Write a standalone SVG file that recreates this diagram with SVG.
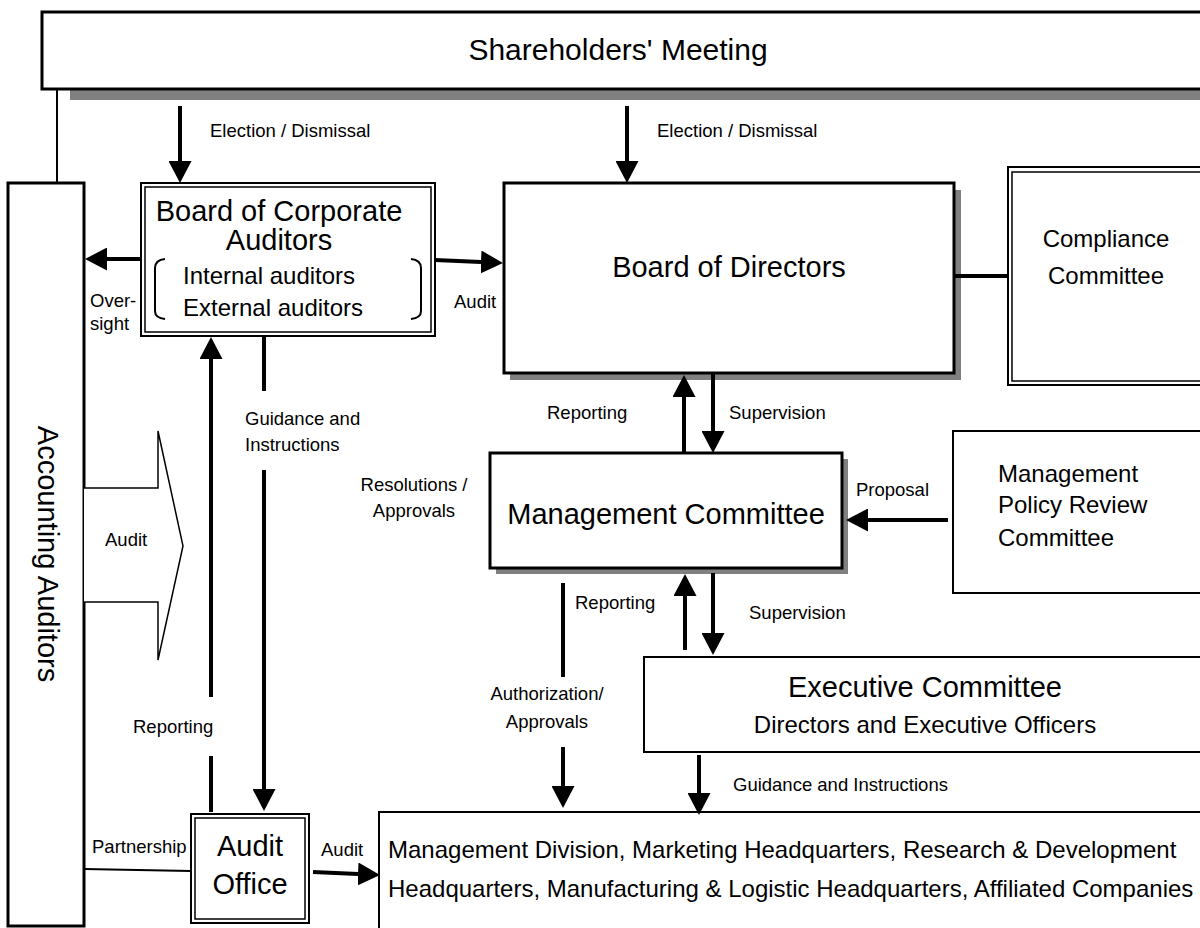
<svg xmlns="http://www.w3.org/2000/svg" width="1200" height="928" viewBox="0 0 1200 928">
<defs>
<style>
text{font-family:"Liberation Sans",Arial,sans-serif;fill:#000}
.big{font-size:29px}
.mid{font-size:24px}
.sub{font-size:24px}
.md{font-size:24px}
.lbl{font-size:18.5px}
.box{fill:#fff;stroke:#000}
.shadow{fill:#808080;stroke:none}
.ar{stroke:#000;stroke-width:4;fill:none}
.thin{stroke:#000;stroke-width:2;fill:none}
</style>
<marker id="ah" markerUnits="userSpaceOnUse" markerWidth="22" markerHeight="23" refX="0" refY="11.5" orient="auto">
<path d="M0,0 L22,11.5 L0,23 Z" fill="#000"/>
</marker>
</defs>
<rect width="1200" height="928" fill="#fff"/>

<g id="shareholders">
<rect class="shadow" x="70" y="22" width="1160" height="78"/>
<rect class="box" x="42" y="12" width="1180" height="77" stroke-width="3"/>
<text class="big" x="618" y="60" text-anchor="middle" style="font-size:30px">Shareholders' Meeting</text>
</g>

<g id="accounting-auditors">
<rect class="box" x="8" y="183" width="76" height="743" stroke-width="3"/>
<text class="big" transform="translate(38,554) rotate(90)" text-anchor="middle">Accounting Auditors</text>
</g>

<g id="board-corporate-auditors">
<rect class="box" x="141" y="183" width="294" height="153" stroke-width="2"/>
<rect class="box" x="145" y="187" width="286" height="145" stroke-width="1.5"/>
<text class="big" x="279" y="221" text-anchor="middle">Board of Corporate</text>
<text class="big" x="279" y="250" text-anchor="middle">Auditors</text>
<path class="thin" stroke-width="1.5" d="M165,259 Q155,260 155,268 L155,311 Q155,318 165,319"/>
<path class="thin" stroke-width="1.5" d="M411,259 Q421,260 421,268 L421,311 Q421,318 411,319"/>
<text class="sub" x="183" y="284">Internal auditors</text>
<text class="sub" x="183" y="316">External auditors</text>
</g>

<g id="board-of-directors">
<rect class="shadow" x="510" y="190" width="451" height="190"/>
<rect class="box" x="504" y="183" width="450" height="190" stroke-width="3"/>
<text class="big" x="729" y="277" text-anchor="middle">Board of Directors</text>
</g>

<g id="compliance-committee">
<rect class="box" x="1008" y="167" width="220" height="218" stroke-width="2"/>
<rect class="box" x="1012" y="172" width="220" height="209" stroke-width="1.5"/>
<text class="mid" x="1106" y="247" text-anchor="middle">Compliance</text>
<text class="mid" x="1106" y="284" text-anchor="middle">Committee</text>
</g>

<g id="management-committee">
<rect class="shadow" x="496" y="459" width="352" height="115"/>
<rect class="box" x="490" y="453" width="352" height="115" stroke-width="3"/>
<text class="big" x="666" y="524" text-anchor="middle">Management Committee</text>
</g>

<g id="management-policy-review">
<rect class="box" x="953" y="431" width="270" height="162" stroke-width="2"/>
<text class="md" x="998" y="482">Management</text>
<text class="md" x="998" y="513">Policy Review</text>
<text class="md" x="998" y="546">Committee</text>
</g>

<g id="executive-committee">
<rect class="box" x="644" y="657" width="580" height="95" stroke-width="2"/>
<text class="big" x="925" y="697" text-anchor="middle">Executive Committee</text>
<text class="sub" x="925" y="733" text-anchor="middle">Directors and Executive Officers</text>
</g>

<g id="audit-office">
<rect class="box" x="191" y="814" width="118" height="109" stroke-width="2"/>
<rect class="box" x="195" y="818" width="110" height="101" stroke-width="1.5"/>
<text class="big" x="250" y="856" text-anchor="middle">Audit</text>
<text class="big" x="250" y="894" text-anchor="middle">Office</text>
</g>

<g id="divisions">
<rect class="box" x="379" y="812" width="850" height="130" stroke-width="2"/>
<text class="md" x="388" y="858">Management Division, Marketing Headquarters, Research &amp; Development</text>
<text class="md" x="388" y="897">Headquarters, Manufacturing &amp; Logistic Headquarters, Affiliated Companies</text>
</g>

<g id="connectors">
<line class="thin" x1="57" y1="89" x2="57" y2="183"/>
<line class="ar" x1="180" y1="106" x2="180" y2="161" marker-end="url(#ah)"/>
<line class="ar" x1="627" y1="106" x2="627" y2="161" marker-end="url(#ah)"/>
<line class="ar" x1="141" y1="259" x2="107" y2="259" marker-end="url(#ah)"/>
<line class="ar" stroke-width="3" x1="435" y1="260" x2="481" y2="262" marker-end="url(#ah)"/>
<line class="ar" x1="211" y1="812" x2="211" y2="756"/>
<line class="ar" x1="211" y1="697" x2="211" y2="359" marker-end="url(#ah)"/>
<line class="ar" stroke-width="5" x1="264" y1="336" x2="264" y2="391"/>
<line class="ar" stroke-width="5" x1="264" y1="470" x2="264" y2="789" marker-end="url(#ah)"/>
<line class="ar" x1="684" y1="453" x2="684" y2="397" marker-end="url(#ah)"/>
<line class="ar" x1="713" y1="373" x2="713" y2="431" marker-end="url(#ah)"/>
<line class="ar" stroke-width="3" x1="954" y1="276" x2="1008" y2="276"/>
<line class="ar" x1="948" y1="520" x2="868" y2="520" marker-end="url(#ah)"/>
<line class="ar" x1="685" y1="650" x2="685" y2="596" marker-end="url(#ah)"/>
<line class="ar" x1="713" y1="573" x2="713" y2="633" marker-end="url(#ah)"/>
<line class="ar" x1="563" y1="583" x2="563" y2="677"/>
<line class="ar" x1="563" y1="747" x2="563" y2="786" marker-end="url(#ah)"/>
<line class="ar" x1="699" y1="755" x2="699" y2="793" marker-end="url(#ah)"/>
<line class="thin" x1="84" y1="869" x2="191" y2="871"/>
<line class="ar" stroke-width="3" x1="313" y1="872" x2="358" y2="874" marker-end="url(#ah)"/>
<polyline fill="#fff" stroke="#000" stroke-width="1.5" points="84,488 158,488 158,431 183,546 158,660 158,602 84,602"/>
</g>

<g id="labels">
<text class="lbl" x="210" y="137">Election / Dismissal</text>
<text class="lbl" x="657" y="137">Election / Dismissal</text>
<text class="lbl" x="90" y="307">Over-</text>
<text class="lbl" x="90" y="330">sight</text>
<text class="lbl" x="454" y="308">Audit</text>
<text class="lbl" x="245" y="425">Guidance and</text>
<text class="lbl" x="245" y="451">Instructions</text>
<text class="lbl" x="105" y="546">Audit</text>
<text class="lbl" x="133" y="733">Reporting</text>
<text class="lbl" x="92" y="853">Partnership</text>
<text class="lbl" x="321" y="856">Audit</text>
<text class="lbl" x="547" y="419">Reporting</text>
<text class="lbl" x="729" y="419">Supervision</text>
<text class="lbl" x="414" y="491" text-anchor="middle">Resolutions /</text>
<text class="lbl" x="414" y="517" text-anchor="middle">Approvals</text>
<text class="lbl" x="856" y="496">Proposal</text>
<text class="lbl" x="575" y="609">Reporting</text>
<text class="lbl" x="749" y="619">Supervision</text>
<text class="lbl" x="547" y="700" text-anchor="middle">Authorization/</text>
<text class="lbl" x="547" y="728" text-anchor="middle">Approvals</text>
<text class="lbl" x="733" y="791">Guidance and Instructions</text>
</g>
</svg>
